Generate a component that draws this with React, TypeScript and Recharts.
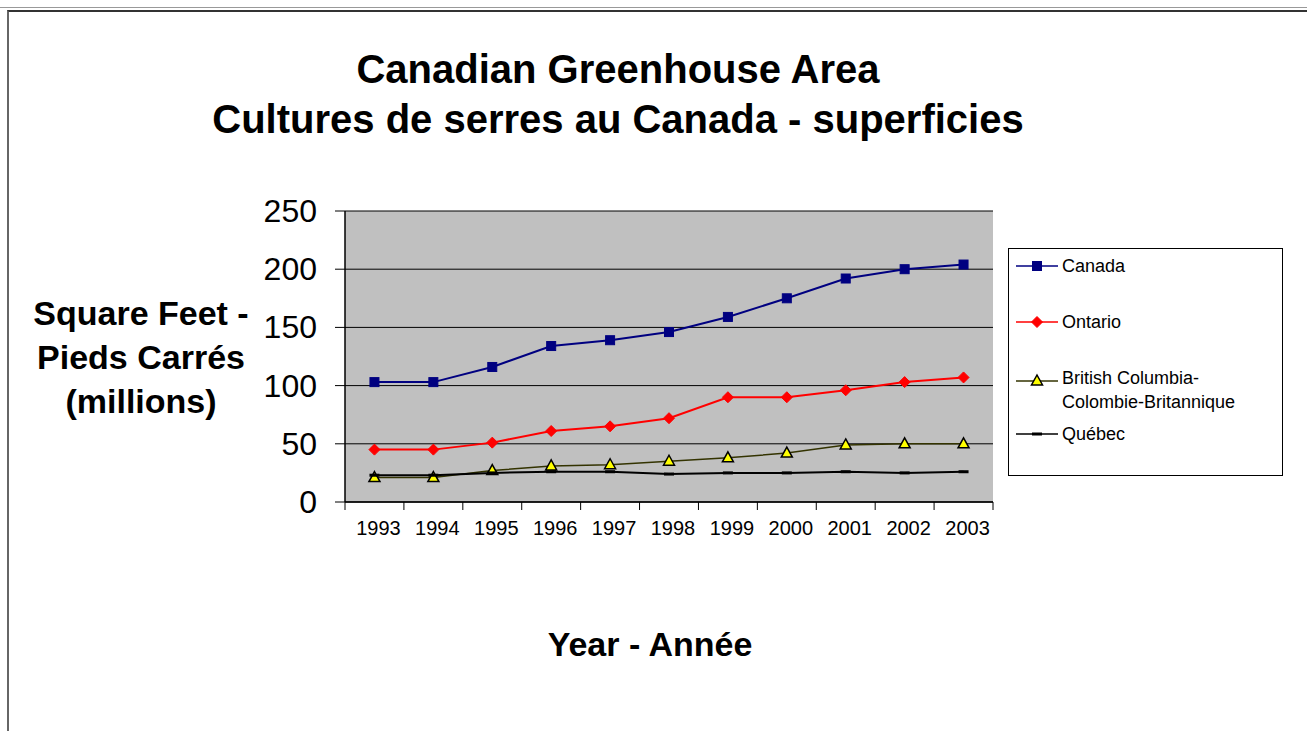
import React from 'react';
import { LineChart, Line, XAxis, YAxis, CartesianGrid, Legend } from 'recharts';

// values (millions of square feet)
const years = [1993, 1994, 1995, 1996, 1997, 1998, 1999, 2000, 2001, 2002, 2003];
const canada = [103, 103, 116, 134, 139, 146, 159, 175, 192, 200, 204];
const ontario = [45, 45, 51, 61, 65, 72, 90, 90, 96, 103, 107];
const britishColumbia = [21, 21, 27, 31, 32, 35, 38, 42, 49, 50, 50];
const quebec = [23, 23, 25, 26, 26, 24, 25, 25, 26, 25, 26];
const yTicks = [0, 50, 100, 150, 200, 250];

const titleLines = ['Canadian Greenhouse Area', 'Cultures de serres au Canada - superficies'];
const yLabelLines = ['Square Feet -', 'Pieds Carrés', '(millions)'];
const xLabel = 'Year - Année';
const seriesOrder = ['canada', 'ontario', 'bc', 'quebec'];

const FONT = '"Liberation Sans", Arial, sans-serif';

const data = years.map((year, i) => ({
  year,
  canada: canada[i],
  ontario: ontario[i],
  bc: britishColumbia[i],
  quebec: quebec[i],
}));

// category centres carry the labels, the half-steps carry Excel-style tick marks
const xTicks = [years[0] - 0.5, ...years.flatMap(y => [y, y + 0.5])];
const xDomain = [years[0] - 0.5, years[years.length - 1] + 0.5];

const XTick = (props: any) => {
  const { x, y, payload } = props;
  const v = payload.value;
  if (!Number.isInteger(v)) {
    return <line x1={x} y1={y} x2={x} y2={y + 8} stroke="#000" strokeWidth={1} />;
  }
  return (
    <text x={x + 4} y={y + 26} textAnchor="middle" dominantBaseline="central" fontSize={20} fontFamily={FONT} fill="#000">
      {v}
    </text>
  );
};

const YTick = (props: any) => {
  const { x, y, payload } = props;
  return (
    <text x={x} y={y} textAnchor="end" dominantBaseline="central" fontSize={32} fontFamily={FONT} fill="#000">
      {payload.value}
    </text>
  );
};

const marker = (key: string, cx: number, cy: number, k?: string) => {
  switch (key) {
    case 'canada':
      return <rect key={k} x={cx - 4.5} y={cy - 4.5} width={9} height={9} fill="#000080" stroke="#000080" />;
    case 'ontario':
      return <polygon key={k} points={`${cx},${cy - 5.5} ${cx + 5.5},${cy} ${cx},${cy + 5.5} ${cx - 5.5},${cy}`} fill="#FF0000" stroke="#FF0000" />;
    case 'bc':
      return <polygon key={k} points={`${cx},${cy - 6} ${cx + 5.5},${cy + 4} ${cx - 5.5},${cy + 4}`} fill="#FFFF00" stroke="#000" strokeWidth={1.5} />;
    default:
      return <rect key={k} x={cx - 5} y={cy - 1.5} width={10} height={3} fill="#000" />;
  }
};

const makeDot = (key: string) => (p: any) => marker(key, p.cx, p.cy, `${key}-${p.index}`);

const renderLegend = (props: any) => {
  const items = [...(props.payload || [])].sort(
    (a: any, b: any) => seriesOrder.indexOf(a.dataKey) - seriesOrder.indexOf(b.dataKey)
  );
  return (
    <div
      style={{
        width: 273,
        height: 221,
        paddingTop: 5,
        border: '1px solid #000',
        background: '#fff',
        fontFamily: FONT,
        fontSize: 18,
        color: '#000',
        textAlign: 'left',
      }}
    >
      {items.map((entry: any) => (
        <div key={entry.dataKey} style={{ display: 'flex', alignItems: 'flex-start', height: 56, paddingLeft: 7 }}>
          <svg width={42} height={24} style={{ flex: 'none', marginTop: entry.dataKey === 'bc' ? 3 : 0 }}>
            <line x1={0} y1={12} x2={42} y2={12} stroke={entry.color} strokeWidth={1.5} />
            {marker(entry.dataKey, 21, 12)}
          </svg>
          <span style={{ marginLeft: 4, lineHeight: '24px', whiteSpace: 'pre-line' }}>{entry.value}</span>
        </div>
      ))}
    </div>
  );
};

export default function App() {
  return (
    <div style={{ position: 'absolute', left: 0, top: 0, width: 1307, height: 731, background: '#fff', overflow: 'hidden' }}>
      {/* outer chart-area frame */}
      <div style={{ position: 'absolute', left: 0, top: 7, width: 1307, borderTop: '1px solid #999' }} />
      <div
        style={{
          position: 'absolute',
          left: 7,
          top: 10,
          width: 1320,
          height: 740,
          borderTop: '2px solid #333',
          borderLeft: '2px solid #666',
        }}
      />

      <div
        style={{
          position: 'absolute',
          left: 0,
          top: 44,
          width: 1236,
          textAlign: 'center',
          fontFamily: FONT,
          fontWeight: 'bold',
          fontSize: 40,
          lineHeight: '50px',
          color: '#000',
        }}
      >
        {titleLines.map(t => (
          <div key={t}>{t}</div>
        ))}
      </div>

      <div
        style={{
          position: 'absolute',
          left: 0,
          top: 291,
          width: 282,
          textAlign: 'center',
          fontFamily: FONT,
          fontWeight: 'bold',
          fontSize: 34,
          lineHeight: '44px',
          color: '#000',
        }}
      >
        {yLabelLines.map(t => (
          <div key={t}>{t}</div>
        ))}
      </div>

      <div
        style={{
          position: 'absolute',
          left: 0,
          top: 624,
          width: 1300,
          textAlign: 'center',
          fontFamily: FONT,
          fontWeight: 'bold',
          fontSize: 34,
          lineHeight: '40px',
          color: '#000',
        }}
      >
        {xLabel}
      </div>

      <div style={{ position: 'absolute', left: 0, top: 0 }}>
        <LineChart width={1307} height={731} data={data} margin={{ top: 211, right: 314, bottom: 199, left: 0 }}>
          <CartesianGrid vertical={false} stroke="#000" fill="#C0C0C0" fillOpacity={1} />
          <XAxis
            dataKey="year"
            type="number"
            domain={xDomain}
            ticks={xTicks}
            interval={0}
            height={30}
            tickSize={0}
            tickMargin={0}
            tickLine={false}
            tick={<XTick />}
            axisLine={{ stroke: '#000', strokeWidth: 1.5 }}
          />
          <XAxis
            xAxisId="top"
            orientation="top"
            type="number"
            domain={xDomain}
            height={0}
            tick={false}
            tickLine={false}
            axisLine={{ stroke: '#808080', strokeWidth: 1.5 }}
          />
          <YAxis
            type="number"
            domain={[0, 250]}
            ticks={yTicks}
            interval={0}
            width={345}
            tickSize={10}
            tickMargin={18}
            tickLine={{ stroke: '#000' }}
            tick={<YTick />}
            axisLine={{ stroke: '#000', strokeWidth: 1.5 }}
          />
          <YAxis
            yAxisId="right"
            orientation="right"
            type="number"
            domain={[0, 250]}
            width={0}
            tick={false}
            tickLine={false}
            axisLine={{ stroke: '#808080', strokeWidth: 1.5 }}
          />
          <Legend
            layout="horizontal"
            verticalAlign="middle"
            align="center"
            content={renderLegend}
            wrapperStyle={{ left: 1008, top: 248, width: 'auto', height: 'auto' }}
          />
          <Line dataKey="canada" name="Canada" stroke="#000080" strokeWidth={2} dot={makeDot('canada')} isAnimationActive={false} />
          <Line dataKey="ontario" name="Ontario" stroke="#FF0000" strokeWidth={2} dot={makeDot('ontario')} isAnimationActive={false} />
          <Line
            dataKey="bc"
            name={'British Columbia-\nColombie-Britannique'}
            stroke="#333300"
            strokeWidth={1.5}
            dot={makeDot('bc')}
            isAnimationActive={false}
          />
          <Line dataKey="quebec" name="Québec" stroke="#000000" strokeWidth={2} dot={makeDot('quebec')} isAnimationActive={false} />
        </LineChart>
      </div>
    </div>
  );
}
